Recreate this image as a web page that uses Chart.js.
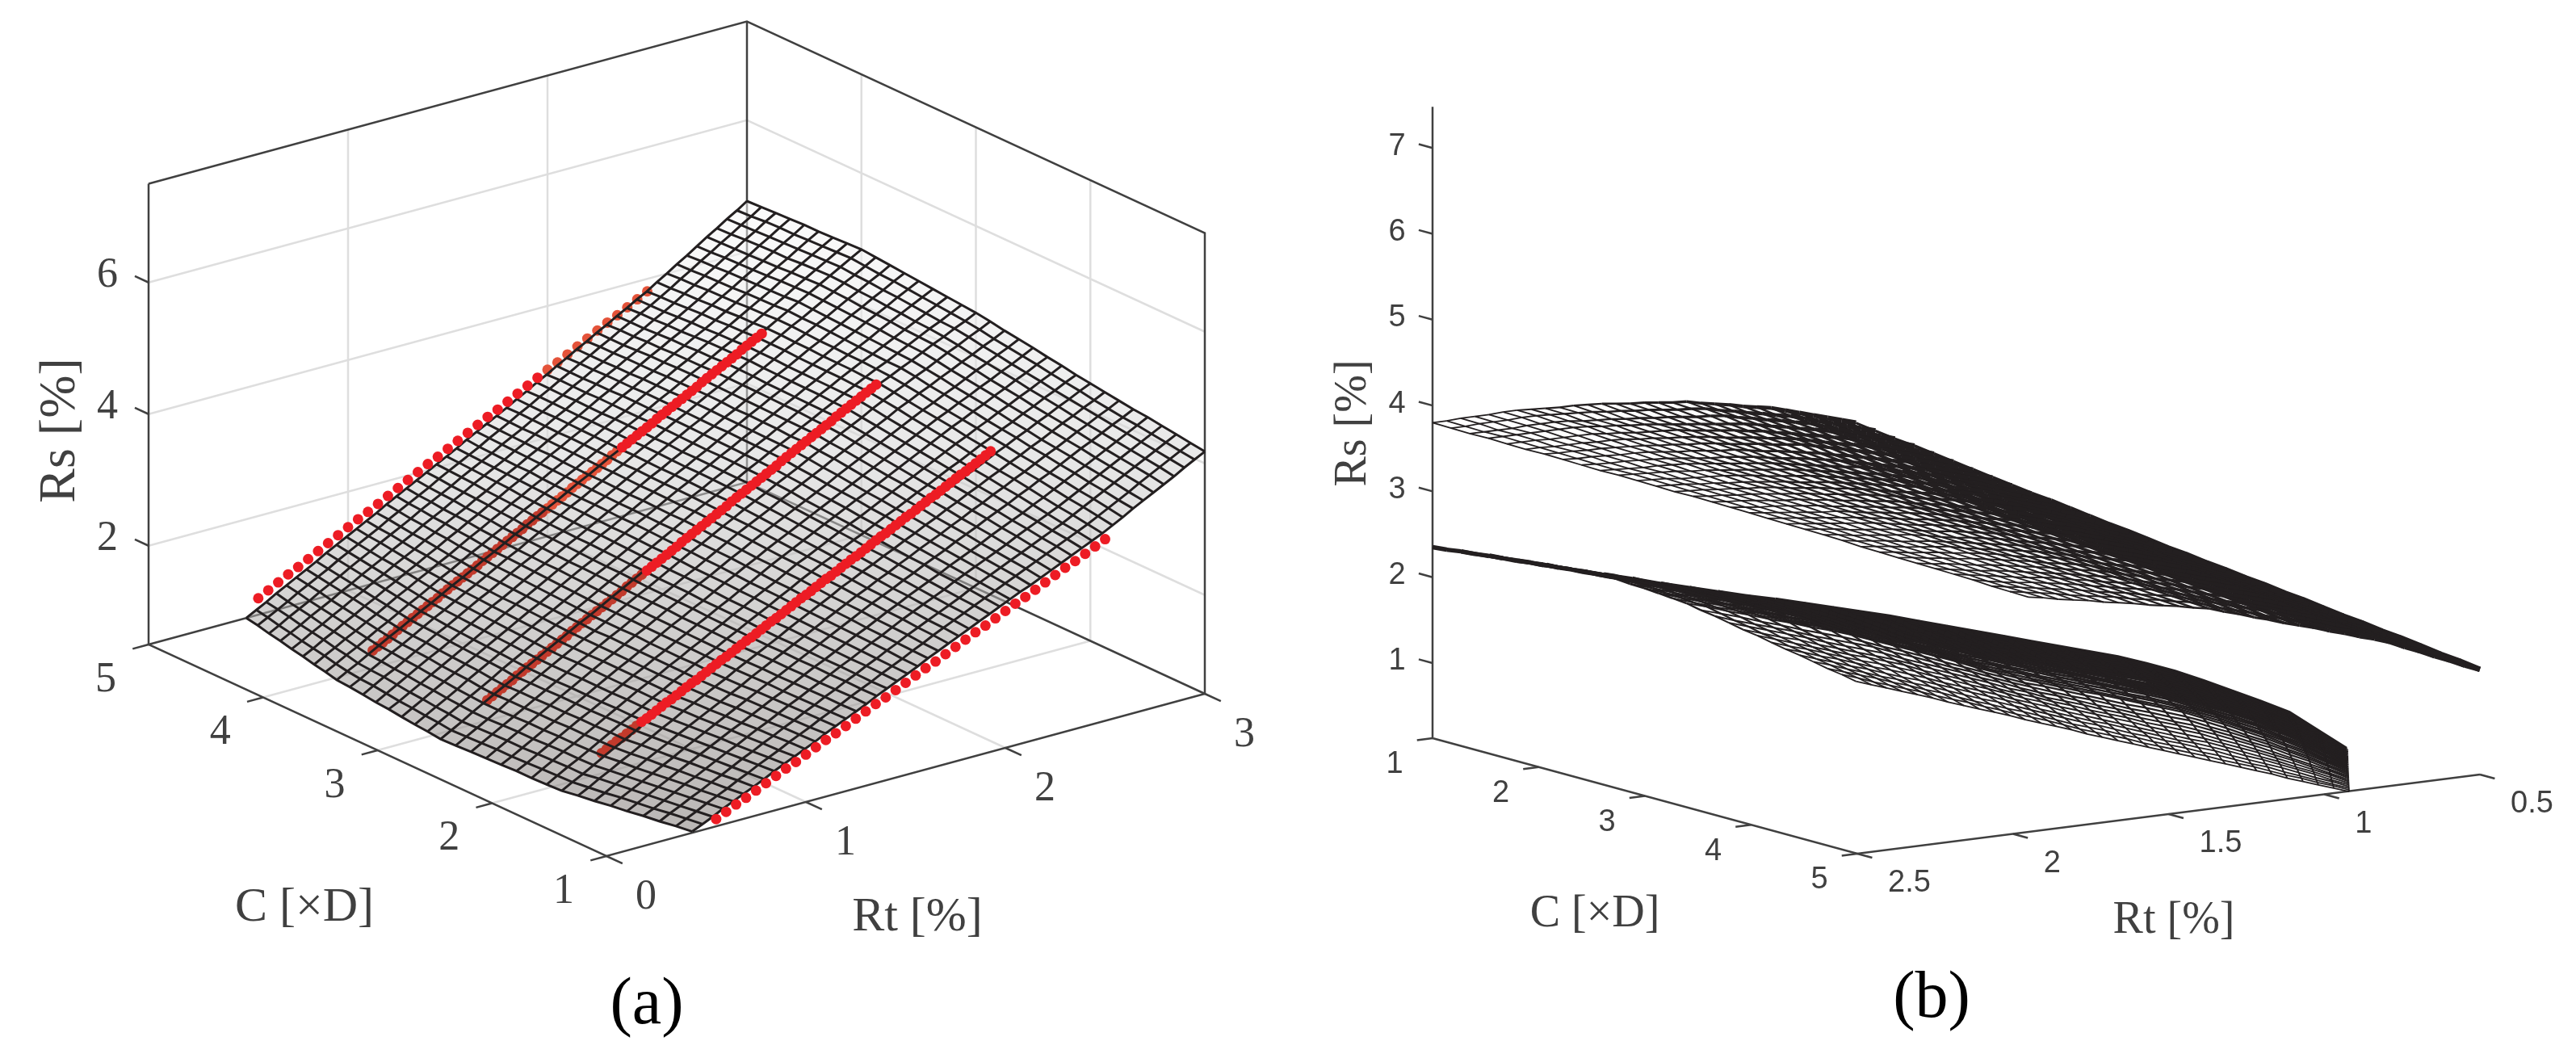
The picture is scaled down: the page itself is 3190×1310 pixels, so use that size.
<!DOCTYPE html>
<html>
<head>
<meta charset="utf-8">
<title>Rs surfaces</title>
<script src="https://cdn.jsdelivr.net/npm/chart.js@4"></script>
<style>
	html, body { margin: 0; background: #fff; }
	#wrap { position: relative; width: 3190px; height: 1310px; overflow: hidden; }
	canvas { position: absolute; top: 0; }
	#chart-a { left: 0; }
	#chart-b { left: 1595px; }
</style>
</head>
<body>
<div id="wrap">
	<canvas id="chart-a" width="1595" height="1310"></canvas>
	<canvas id="chart-b" width="1595" height="1310"></canvas>
</div>
<script>
'use strict';

// Tick labels
var rtTicksA = [0, 1, 2, 3];
var cTicksA = [1, 2, 3, 4, 5];
var rsTicksA = [2, 4, 6];
var rtTicksB = [2.5, 2, 1.5, 1, 0.5];
var cTicksB = [1, 2, 3, 4, 5];
var rsTicksB = [1, 2, 3, 4, 5, 6, 7];

// Panel (a) mesh. Estimated by eye: stations measured on the picture, nodes in between typed as estimates.
var cLevels = [1, 1.125, 1.25, 1.375, 1.5, 1.625, 1.75, 1.875, 2, 2.125, 2.25, 2.375, 2.5, 2.625, 2.75, 2.875, 3, 3.125, 3.25, 3.375, 3.5, 3.625, 3.75, 3.875, 4, 4.125, 4.25, 4.375, 4.5, 4.625, 4.75, 4.875, 5];
var rtStartA = [0.43, 0.42, 0.41, 0.40, 0.39, 0.38, 0.37, 0.36, 0.35, 0.346, 0.342, 0.338, 0.333, 0.329, 0.325, 0.32, 0.316, 0.323, 0.33, 0.336, 0.343, 0.35, 0.357, 0.363, 0.37, 0.385, 0.40, 0.415, 0.43, 0.445, 0.46, 0.475, 0.49];
var rtEndA = 3;
// Rs in hundredths of a percent, one row per C level, 51 nodes from rtStartA to rtEndA
var rsMeshA = [
	[52,59,66,74,81,88,95,102,110,117,124,131,138,146,153,160,167,174,182,189,196,203,210,218,225,232,239,246,253,260,267,274,281,287,294,301,308,315,322,329,336,344,352,361,369,377,385,393,402,410,418],
	[51,58,65,73,80,87,95,102,110,117,124,132,139,146,154,161,168,176,183,190,198,205,212,220,227,235,242,249,256,263,270,277,284,291,298,305,312,319,326,333,340,348,356,364,372,381,389,397,405,413,421],
	[49,57,64,72,79,87,94,102,110,117,125,132,140,147,155,162,170,177,185,192,200,207,215,222,230,237,244,251,258,265,273,280,287,294,301,308,315,322,329,336,344,352,360,368,376,384,392,400,408,416,424],
	[48,55,63,71,79,86,94,102,110,117,125,133,140,148,156,163,171,178,186,194,201,209,217,224,232,240,247,254,261,268,276,283,290,297,304,311,319,326,333,340,347,355,363,371,379,387,395,403,411,419,427],
	[46,54,62,70,78,86,94,102,110,118,126,133,141,149,157,164,172,180,188,195,203,211,219,226,234,242,249,257,264,271,278,286,293,300,307,315,322,329,336,344,351,359,367,375,382,390,398,406,414,422,430],
	[45,53,61,69,77,85,93,102,110,118,126,134,142,150,158,166,173,181,189,197,205,213,221,229,237,245,252,259,267,274,282,289,296,304,311,318,326,333,340,348,355,363,370,378,386,394,401,409,417,424,432],
	[43,51,60,68,76,85,93,101,110,118,126,134,142,150,158,167,175,183,191,199,207,215,223,231,239,247,254,262,269,277,284,292,299,306,314,321,329,336,344,351,359,366,374,382,389,397,405,412,420,427,435],
	[42,50,59,67,76,84,93,101,110,118,127,135,143,151,159,168,176,184,192,200,209,217,225,233,241,250,257,265,272,280,287,295,302,310,317,325,332,340,347,355,362,370,377,385,392,400,408,415,423,430,438],
	[40,49,57,66,75,84,92,101,110,118,127,135,144,152,160,169,177,185,194,202,210,219,227,235,244,252,260,267,275,282,290,298,305,313,321,328,336,343,351,358,366,374,381,389,396,404,411,419,426,434,441],
	[40,49,58,66,75,84,93,102,110,119,128,136,145,153,162,170,178,187,195,204,212,220,229,237,246,254,262,269,277,285,292,300,308,315,323,331,338,346,354,361,369,377,384,392,399,407,414,422,429,437,444],
	[40,49,58,67,75,84,93,102,111,120,129,137,145,154,162,171,179,188,196,205,213,222,230,238,247,256,263,271,279,287,295,302,310,318,326,334,341,349,357,365,373,380,388,395,403,410,418,425,433,440,448],
	[41,49,58,67,76,85,94,102,111,120,129,138,146,155,163,172,180,189,197,206,214,223,231,240,249,257,265,273,281,289,297,305,313,320,328,336,344,352,360,368,376,384,391,399,406,414,421,429,436,444,451],
	[41,49,58,67,76,85,94,103,112,121,130,139,147,156,164,173,182,190,199,207,216,225,233,242,250,259,267,275,283,291,299,307,315,323,331,339,347,355,363,371,379,387,394,402,409,417,424,432,439,447,455],
	[41,50,59,68,77,86,95,104,113,122,131,140,148,157,166,174,183,192,200,209,218,226,235,244,252,261,269,277,285,293,301,309,317,326,334,342,350,358,366,374,382,390,397,405,412,420,428,435,443,450,458],
	[41,50,59,68,77,86,95,104,113,122,132,140,149,158,166,175,184,193,201,210,219,227,236,245,254,263,271,279,287,296,304,312,320,328,337,345,353,361,369,377,386,393,401,408,416,423,431,438,446,453,461],
	[41,50,59,68,77,87,96,105,114,123,132,141,150,158,167,176,185,194,202,211,220,229,238,246,255,264,272,281,289,297,306,314,322,331,339,347,356,364,372,381,389,397,404,412,419,427,435,442,450,457,465],
	[41,50,59,69,78,87,96,105,115,124,133,142,151,160,168,177,186,195,204,213,222,231,239,248,257,266,274,283,291,300,308,316,325,333,342,350,358,367,375,384,392,400,407,415,422,430,438,445,453,460,468],
	[42,51,60,69,78,87,96,106,115,124,133,142,151,159,168,177,186,195,204,212,221,230,239,248,257,266,274,282,291,299,308,316,325,333,341,350,358,367,375,384,392,400,408,415,423,431,439,447,454,462,470],
	[42,51,60,69,78,88,97,106,115,124,133,142,151,159,168,177,186,195,203,212,221,230,239,247,256,265,274,282,291,299,308,316,325,333,342,350,359,367,376,384,393,401,409,416,424,432,440,448,456,464,472],
	[43,52,61,70,79,88,97,106,115,124,133,142,151,159,168,177,186,195,203,212,221,230,239,247,256,265,274,282,291,299,308,316,325,333,342,350,359,367,376,384,393,401,409,417,425,434,442,450,458,466,474],
	[44,52,61,70,79,88,97,106,115,124,133,142,151,159,168,177,186,194,203,212,221,229,238,247,256,265,273,282,290,299,307,316,325,333,342,350,359,367,376,384,393,401,410,418,426,435,443,451,460,468,476],
	[44,53,62,71,80,89,97,106,115,124,133,142,150,159,168,177,185,194,203,211,220,229,238,246,255,264,273,281,290,298,307,316,324,333,341,350,359,367,376,384,393,402,410,419,427,436,444,453,461,470,478],
	[45,54,63,71,80,89,98,107,115,124,133,142,150,159,168,177,185,194,203,211,220,229,238,246,255,264,273,281,290,299,307,316,324,333,342,350,359,368,376,385,394,402,411,420,428,437,446,454,463,471,480],
	[46,54,63,72,81,89,98,107,116,124,133,142,150,159,168,177,185,194,203,211,220,229,237,246,255,264,272,281,290,298,307,316,324,333,342,350,359,368,377,385,394,403,412,420,429,438,447,456,464,473,482],
	[46,55,63,72,81,90,98,107,116,124,133,142,150,159,168,176,185,194,202,211,220,228,237,246,254,263,272,280,289,298,307,315,324,333,341,350,359,368,376,385,394,403,412,421,430,439,448,457,466,475,484],
	[47,55,64,72,81,90,98,107,116,124,133,142,150,159,168,176,185,193,202,211,219,228,236,245,253,262,271,279,288,297,305,314,323,331,340,349,357,366,375,383,392,401,410,419,428,438,447,456,465,474,483],
	[47,56,64,73,81,90,98,107,116,124,133,141,150,158,167,176,184,193,201,210,218,227,235,244,252,261,270,278,287,296,304,313,322,330,339,348,356,365,374,382,391,400,409,418,427,437,446,455,464,473,482],
	[48,56,65,73,82,90,99,107,116,124,133,141,150,158,167,175,184,192,201,209,218,226,235,243,252,260,269,277,286,294,303,312,320,329,337,346,355,363,372,380,389,398,407,417,426,435,444,453,463,472,481],
	[48,56,65,73,82,90,99,107,116,124,133,141,149,158,166,175,183,191,200,208,217,225,233,242,250,259,267,276,284,293,302,310,319,327,336,345,353,362,370,379,388,397,406,415,425,434,443,453,462,471,481],
	[49,57,65,74,82,90,99,107,116,124,132,141,149,157,166,174,182,191,199,208,216,224,232,241,249,258,266,275,283,292,300,309,318,326,335,343,352,360,369,377,386,395,405,414,424,433,442,452,461,471,480],
	[49,57,66,74,82,91,99,107,116,124,132,141,149,157,165,174,182,190,198,207,215,223,231,240,248,256,265,273,282,290,299,307,316,324,333,341,350,358,367,375,384,394,403,413,422,432,441,451,460,470,479],
	[50,58,66,74,83,91,99,107,116,124,132,140,148,157,165,173,181,189,198,206,214,222,230,239,247,255,264,272,281,289,298,306,315,323,332,340,349,357,366,374,383,392,402,411,421,430,440,449,459,468,478],
	[50,58,66,75,83,91,99,107,116,124,132,140,148,156,165,173,181,189,197,205,213,221,230,238,246,254,262,271,279,288,296,305,313,322,330,339,347,356,364,373,381,391,400,410,419,429,439,448,458,467,477]
];

// Panel (a) red measured points, one list per C level, Rs in hundredths of a percent
var redRt = [0.55, 0.6, 0.65, 0.7, 0.75, 0.8, 0.85, 0.9, 0.95, 1, 1.05, 1.1, 1.15, 1.2, 1.25, 1.3, 1.35, 1.4, 1.45, 1.5, 1.55, 1.6, 1.65, 1.7, 1.75, 1.8, 1.85, 1.9, 1.95, 2, 2.05, 2.1, 2.15, 2.2, 2.25, 2.3, 2.35, 2.4, 2.45, 2.5];
var redRtDense = [0.55, 0.575, 0.6, 0.625, 0.65, 0.675, 0.7, 0.725, 0.75, 0.775, 0.8, 0.825, 0.85, 0.875, 0.9, 0.925, 0.95, 0.975, 1, 1.025, 1.05, 1.075, 1.1, 1.125, 1.15, 1.175, 1.2, 1.225, 1.25, 1.275, 1.3, 1.325, 1.35, 1.375, 1.4, 1.425, 1.45, 1.475, 1.5, 1.525, 1.55, 1.575, 1.6, 1.625, 1.65, 1.675, 1.7, 1.725, 1.75, 1.775, 1.8, 1.825, 1.85, 1.875, 1.9, 1.925, 1.95, 1.975, 2, 2.025, 2.05, 2.075, 2.1, 2.125, 2.15, 2.175, 2.2, 2.225, 2.25, 2.275, 2.3, 2.325, 2.35, 2.375, 2.4, 2.425, 2.45, 2.475, 2.5];
var redC = [1, 2, 3, 4, 5];
var redRs1 = [61,68,75,81,88,95,102,109,115,122,129,136,142,149,156,163,170,176,183,190,197,204,210,217,224,231,238,244,251,258,265,271,278,285,292,299,305,312,319,326];
var redRs2 = [81,85,89,93,96,100,104,108,112,115,119,123,127,131,134,138,142,146,150,153,157,161,165,169,173,176,180,184,188,192,195,199,203,207,211,214,218,222,226,230,234,237,241,245,249,253,256,260,264,268,272,275,279,283,287,291,295,298,302,306,310,314,317,321,325,329,333,336,340,344,348,352,356,359,363,367,371,375,379];
var redRs3 = [81,85,89,93,97,101,106,110,114,118,122,126,130,134,138,142,146,151,155,159,163,167,171,175,179,183,187,191,196,200,204,208,212,216,220,224,228,232,236,241,245,249,253,257,261,265,269,273,277,282,286,290,294,298,302,306,310,314,318,323,327,331,335,339,343,347,351,355,359,363,368,372,376,380,384,388,392,396,400];
var redRs4 = [76,80,84,88,92,97,101,105,109,113,117,121,125,129,134,138,142,146,150,154,158,162,167,171,175,179,183,187,191,195,199,204,208,212,216,220,224,228,232,236,241,245,249,253,257,261,265,269,274,278,282,286,290,294,298,302,306,311,315,319,323,327,331,335,339,343,348,352,356,360,364,368,372,376,381,385,389,393,397];
var redRs5 = [75,83,91,99,106,114,122,130,138,146,154,161,169,177,185,193,201,209,216,224,232,240,248,256,263,271,279,287,295,303,310,318,326,334,342,350,357,365,373,381];
var redUnderFrom = [0, 0, 0, 0, 29];
var redUnderTo = [0, 8, 32, 50, 40];

// Panel (b) meshes, estimated by eye too. Rt runs from near to far bound, bounds given at C=1 and C=5.
var upperRtNear = [2.5, 1.95];
var upperRtFar = [1.14, 0.5];
var lowerRtNear = [1.14, 0.92];
var lowerRtFar = [2.5, 0.93];
var rsMeshUpper = [
	[380,380,381,381,381,382,382,381,380,379,379,378,377,375,373,372,370,368,367,363,360,357,353,350,347,342,337,332,327,322,317],
	[377,377,378,378,378,379,379,378,377,376,375,373,372,370,369,367,365,364,362,358,355,351,348,344,341,336,331,326,321,316,311],
	[374,374,374,374,375,375,375,374,372,371,370,368,367,365,364,362,360,359,357,353,350,346,343,339,336,330,325,320,315,310,305],
	[372,372,372,372,372,372,372,371,369,368,366,365,363,361,359,357,355,353,351,348,344,341,337,334,330,325,320,315,310,305,300],
	[369,369,369,368,368,368,368,366,365,363,362,361,360,357,355,353,351,348,346,342,339,335,332,328,325,319,314,309,304,299,294],
	[366,366,365,365,365,364,364,363,361,360,358,357,355,353,350,348,346,343,341,338,334,330,326,323,319,314,309,304,298,293,288],
	[364,363,363,362,362,361,360,359,357,356,354,353,351,348,346,344,341,339,337,333,329,325,321,317,313,308,303,298,292,287,282],
	[361,360,360,359,358,358,357,355,353,352,350,348,347,344,341,339,336,333,330,326,323,319,315,311,308,302,297,292,287,281,276],
	[358,357,356,356,355,354,353,351,349,347,346,344,342,339,336,334,331,328,325,321,317,313,310,306,302,297,291,286,281,275,270],
	[355,354,353,352,352,351,350,348,346,344,342,340,338,335,332,329,326,323,321,317,313,309,305,301,297,292,286,281,275,270,264],
	[353,352,351,350,349,347,346,344,342,340,338,336,334,331,328,325,322,319,316,312,309,305,300,296,292,287,281,275,270,264,259],
	[350,349,348,346,345,344,343,341,339,336,334,332,330,327,324,321,318,315,312,308,304,300,295,291,287,282,276,270,265,259,253],
	[347,346,345,343,342,340,339,337,335,333,330,328,326,323,320,317,314,311,308,303,299,295,291,286,282,276,270,265,259,253,247],
	[344,343,342,340,339,337,336,334,331,329,327,324,322,319,316,312,309,306,303,299,295,290,286,281,277,271,265,259,253,247,241],
	[342,340,339,337,336,334,332,330,328,325,323,320,318,315,312,308,305,302,299,295,290,286,281,277,272,266,260,254,248,242,236],
	[339,337,336,334,332,330,329,326,324,321,319,316,314,311,307,304,301,297,294,290,285,281,276,272,267,261,255,249,242,236,230],
	[336,334,332,331,329,327,325,322,320,317,315,312,310,307,303,300,297,293,290,285,281,276,271,267,262,256,249,243,237,230,224],
	[333,331,329,327,325,323,322,319,316,314,311,309,306,303,299,296,292,289,286,281,276,271,267,262,257,250,244,238,231,225,219],
	[330,328,326,324,322,320,318,315,313,310,307,305,302,299,295,292,288,285,281,276,271,267,262,257,252,245,239,233,226,220,213],
	[327,325,323,321,319,317,315,312,309,306,304,301,298,295,291,287,284,280,277,272,267,262,257,252,247,240,234,227,221,214,208],
	[324,322,320,317,315,313,311,308,305,302,300,297,294,291,287,283,279,276,272,267,262,257,252,247,242,235,229,222,215,209,202],
	[321,319,316,314,312,310,308,305,301,298,296,293,290,286,282,279,275,271,268,262,257,252,247,242,237,230,223,217,210,203,197],
	[318,315,313,311,308,306,304,301,298,295,292,289,286,282,278,274,270,267,263,258,252,247,242,237,232,225,218,211,205,198,191],
	[314,312,310,307,305,303,301,297,294,291,288,285,282,278,274,270,266,262,259,253,247,242,237,232,227,220,213,206,199,192,186],
	[311,309,306,304,302,299,297,294,291,287,284,281,278,274,270,265,261,258,254,248,242,237,232,227,222,215,208,201,194,187,180],
	[308,306,303,301,298,296,293,290,287,284,280,277,274,270,265,261,257,253,249,243,237,232,227,222,217,210,202,195,188,181,174],
	[305,302,300,297,294,292,289,286,283,280,276,273,270,266,261,257,252,248,244,238,232,227,222,217,212,204,197,190,183,176,169],
	[302,299,296,293,291,288,285,282,279,276,272,269,266,261,256,252,248,243,239,233,227,222,217,211,206,199,192,184,177,170,163],
	[299,296,293,290,287,284,282,279,275,272,268,265,262,257,252,248,243,238,234,228,222,217,212,206,201,194,186,179,172,165,158],
	[296,292,289,286,284,281,278,275,271,268,264,261,258,253,248,243,238,233,229,223,218,212,207,201,196,189,181,174,167,159,152],
	[292,289,286,283,280,277,274,270,267,264,260,257,254,249,244,239,234,229,224,218,213,207,202,196,191,183,176,168,161,153,146],
	[289,286,283,280,276,273,270,267,263,260,257,253,250,245,239,234,229,223,218,213,207,202,196,191,185,178,171,163,156,148,141],
	[286,283,279,276,273,269,266,263,259,256,253,249,246,240,235,229,224,218,213,208,202,197,191,186,180,172,165,157,150,142,135]
];
var rsMeshLower = [
	[16,26,35,45,55,64,74,84,93,103,113,122,132,140,148,156,163,171,179,184,188,193,198,202,207,212,216,221,226,230,235],
	[16,26,35,45,54,64,73,83,92,102,111,121,131,138,146,153,161,168,176,181,185,190,195,200,205,209,214,218,223,227,232],
	[16,25,35,44,54,63,73,82,91,101,110,120,129,136,144,151,158,166,173,178,183,187,192,197,202,206,210,215,219,224,229],
	[16,25,35,44,53,63,72,81,91,100,109,118,128,135,142,149,156,163,170,175,180,184,189,194,199,203,208,212,216,221,225],
	[16,25,34,43,53,62,71,80,89,99,108,117,126,133,140,147,153,160,167,172,176,181,186,190,195,199,204,208,213,217,222],
	[16,25,34,43,52,61,70,79,88,97,106,115,125,131,138,144,151,158,164,169,173,178,183,187,192,196,201,205,209,214,218],
	[15,24,33,42,51,61,70,79,87,96,105,114,123,129,135,142,148,155,161,166,170,175,180,184,189,193,198,202,206,211,215],
	[15,24,33,42,51,60,69,78,86,95,104,113,122,128,133,139,145,152,158,163,167,172,177,181,186,190,194,198,203,207,212],
	[15,24,32,41,50,59,68,77,85,94,103,111,120,126,132,137,143,149,155,160,164,169,174,178,183,187,191,195,200,204,208],
	[15,23,31,40,49,57,66,74,83,91,100,108,117,123,129,135,140,146,152,157,161,166,171,175,180,184,188,193,197,201,205],
	[15,23,31,39,48,56,65,73,81,89,98,106,114,120,125,131,137,142,148,153,158,163,167,172,177,181,185,190,194,198,202],
	[14,22,30,39,47,55,63,71,79,87,95,103,111,117,122,128,134,139,145,150,155,160,164,169,174,178,182,187,191,195,199],
	[14,22,30,38,46,54,62,69,77,85,92,100,108,113,119,125,130,136,142,146,151,156,161,166,171,175,179,184,188,192,197],
	[14,22,29,37,45,52,60,67,75,82,90,97,105,110,116,121,127,132,138,143,148,153,158,163,168,172,176,181,185,190,194],
	[14,21,28,36,43,51,58,65,72,80,87,94,101,107,112,118,123,129,135,140,145,149,154,159,164,168,173,177,182,186,191],
	[13,20,27,35,42,50,57,64,71,77,84,91,98,103,109,114,120,125,131,136,141,146,151,156,161,165,170,174,179,183,188],
	[13,20,27,34,41,48,55,62,68,75,82,88,95,101,106,112,117,123,128,133,138,143,148,153,158,162,167,171,176,180,185],
	[13,20,27,34,40,47,54,61,67,74,80,87,93,98,104,109,114,120,125,130,135,140,145,150,155,159,164,168,172,177,181],
	[13,20,26,33,40,46,53,59,66,72,78,85,91,96,101,106,112,117,122,127,132,137,141,146,151,155,160,164,168,173,177],
	[13,19,26,32,39,45,52,58,64,70,77,83,89,94,99,104,109,114,119,124,129,133,138,143,148,152,156,160,165,169,173],
	[13,19,25,32,38,44,51,57,63,69,75,81,88,92,97,102,107,112,117,121,126,130,135,139,144,148,152,156,161,165,169],
	[13,19,25,31,37,43,49,55,61,67,73,79,86,90,95,100,105,109,114,118,123,127,131,136,141,145,149,153,157,161,165],
	[13,19,25,31,36,42,48,54,60,66,72,78,84,88,93,97,102,106,111,115,120,124,128,133,137,141,145,149,153,157,161],
	[13,19,24,30,36,41,47,53,59,64,70,76,82,86,91,95,100,104,108,112,116,120,125,129,134,138,141,145,149,153,157],
	[13,18,24,30,35,41,46,52,57,63,69,74,80,84,88,92,97,101,105,109,113,117,122,126,130,134,138,142,145,149,153],
	[13,18,23,28,34,39,44,49,55,60,65,71,76,80,84,88,92,96,100,104,108,112,116,120,124,128,132,135,139,143,147],
	[13,18,22,27,32,37,42,47,52,57,62,67,72,76,80,84,87,91,95,99,103,107,110,114,118,122,125,129,133,136,140],
	[13,17,22,26,31,35,40,44,49,53,58,62,67,71,74,78,82,86,90,93,97,100,104,107,111,114,118,121,124,127,131],
	[12,16,20,25,29,33,37,41,45,50,54,58,62,66,69,73,77,80,84,87,90,94,97,101,104,107,110,113,115,118,121],
	[12,16,19,23,27,30,34,38,41,45,49,52,56,59,63,66,69,73,76,79,82,85,88,92,95,97,100,103,105,108,111],
	[12,15,18,21,25,28,31,34,37,41,44,47,50,53,56,59,62,65,68,71,74,77,79,82,85,87,90,92,95,97,100],
	[12,15,17,20,22,25,28,30,33,35,38,40,43,45,47,50,52,55,57,59,61,63,66,68,70,72,74,76,77,79,81],
	[12,14,16,18,20,22,24,26,28,30,32,34,36,38,40,41,43,45,46,48,49,51,52,54,55,56,57,58,60,61,62]
];

var AXIS_DARK = '#404040';
var GRID_LIGHT = '#dedede';
var MESH_DARK = '#231f20';
var RED = '#ed1c24';
var RED_UNDER_LOW = '#c23a2c';
var RED_UNDER_HIGH = '#e4533a';
var SERIF = '"Liberation Serif"';
var SANS = '"Liberation Sans"';

// Three-dimensional box of each panel laid flat on the page
function projectA(rt, c, rs) {
	return {
		x: 751 + 247 * rt - 141.75 * (c - 1),
		y: 1060 - 67 * rt - 65.5 * (c - 1) - 81.5 * (rs - 0.5)
	};
}

function projectB(rt, c, rs) {
	return {
		x: 1774 + 131.5 * (c - 1) + 385.5 * (2.5 - rt),
		y: 914 + 35.75 * (c - 1) - 49 * (2.5 - rt) - 106.3 * (rs - 0.125)
	};
}

function lineSet(points, color, width, order) {
	return {
		showLine: true,
		data: points,
		borderColor: color,
		borderWidth: width,
		pointRadius: 0,
		tension: 0,
		order: order
	};
}

function dotSet(points, color, order) {
	return {
		showLine: false,
		data: points,
		pointRadius: 6.5,
		pointBackgroundColor: color,
		pointBorderWidth: 0,
		order: order
	};
}

function path(project, nodes) {
	return nodes.map(function (n) {
		return project(n[0], n[1], n[2]);
	});
}

function makeOptions(xMin, xMax) {
	return {
		responsive: false,
		animation: false,
		devicePixelRatio: 1,
		parsing: false,
		layout: { padding: 0, autoPadding: false },
		plugins: { legend: { display: false }, tooltip: { enabled: false } },
		scales: {
			x: { type: 'linear', display: false, min: xMin, max: xMax },
			y: { type: 'linear', display: false, min: 0, max: 1310, reverse: true }
		}
	};
}

function textPlugin(labels) {
	return {
		id: 'panelText',
		afterDatasetsDraw: function (chart) {
			var ctx = chart.ctx;
			var xs = chart.scales.x;
			var ys = chart.scales.y;
			labels.forEach(function (l) {
				ctx.save();
				ctx.translate(xs.getPixelForValue(l.x), ys.getPixelForValue(l.y));
				if (l.rotate) {
					ctx.rotate(l.rotate);
				}
				ctx.font = l.font;
				ctx.fillStyle = l.color || AXIS_DARK;
				ctx.textAlign = l.align || 'center';
				ctx.textBaseline = 'middle';
				ctx.fillText(l.text, 0, 0);
				ctx.restore();
			});
		}
	};
}

var PanelA = (function () {
	var datasets = [];
	var labels = [];
	var rtMax = 3, rsMin = 0.5, rsMax = 7.5;
	var tickFont = '52px ' + SERIF;
	var titleFont = '60px ' + SERIF;

	// Walls
	rsTicksA.forEach(function (rs) {
		datasets.push(lineSet(path(projectA, [[0, 5, rs], [rtMax, 5, rs], [rtMax, 1, rs]]), GRID_LIGHT, 2.5, 9));
		var p = projectA(0, 5, rs);
		datasets.push(lineSet(path(projectA, [[0, 5, rs], [0, 5.12, rs]]), AXIS_DARK, 2.5, 8));
		labels.push({ text: String(rs), x: p.x - 51, y: p.y - 8, font: tickFont });
	});
	rtTicksA.forEach(function (rt) {
		if (rt > 0 && rt < rtMax) {
			datasets.push(lineSet(path(projectA, [[rt, 1, rsMin], [rt, 5, rsMin], [rt, 5, rsMax]]), GRID_LIGHT, 2.5, 9));
		}
		var p = projectA(rt, 1, rsMin);
		datasets.push(lineSet(path(projectA, [[rt, 1, rsMin], [rt, 0.86, rsMin]]), AXIS_DARK, 2.5, 8));
		labels.push({ text: String(rt), x: p.x + 49, y: p.y + 51, font: tickFont });
	});
	cTicksA.forEach(function (c) {
		if (c > 1 && c < 5) {
			datasets.push(lineSet(path(projectA, [[0, c, rsMin], [rtMax, c, rsMin], [rtMax, c, rsMax]]), GRID_LIGHT, 2.5, 9));
		}
		var p = projectA(0, c, rsMin);
		datasets.push(lineSet(path(projectA, [[0, c, rsMin], [-0.08, c, rsMin]]), AXIS_DARK, 2.5, 8));
		labels.push({ text: String(c), x: p.x - 53, y: p.y + 44, font: tickFont });
	});

	// Box
	datasets.push(lineSet(path(projectA, [
		[0, 5, rsMax], [0, 5, rsMin], [0, 1, rsMin], [rtMax, 1, rsMin], [rtMax, 1, rsMax], [rtMax, 5, rsMax], [0, 5, rsMax]
	]), AXIS_DARK, 2.5, 8));
	datasets.push(lineSet(path(projectA, [
		[0, 5, rsMin], [rtMax, 5, rsMin], [rtMax, 1, rsMin]
	]), AXIS_DARK, 2.5, 8));
	datasets.push(lineSet(path(projectA, [[rtMax, 5, rsMin], [rtMax, 5, rsMax]]), AXIS_DARK, 2.5, 8));

	// Surface nodes
	var nodes = rsMeshA.map(function (row, i) {
		return row.map(function (v, j) {
			var rt = rtStartA[i] + (rtEndA - rtStartA[i]) * j / (row.length - 1);
			return projectA(rt, cLevels[i], v / 100);
		});
	});

	// Carrier for the surface fill
	datasets.push({ label: 'surface fill', data: [], order: 5 });

	nodes.forEach(function (row) {
		datasets.push(lineSet(row, MESH_DARK, 3, 2));
	});
	nodes[0].forEach(function (unused, j) {
		datasets.push(lineSet(nodes.map(function (row) { return row[j]; }), MESH_DARK, 3, 2));
	});

	// Red points, the covered ones are tinted by the surface and stay under the mesh
	var redRtLists = [redRt, redRtDense, redRtDense, redRtDense, redRt];
	[redRs1, redRs2, redRs3, redRs4, redRs5].forEach(function (list, k) {
		var underLow = [], underHigh = [], over = [];
		list.forEach(function (v, n) {
			var rt = redRtLists[k][n];
			var p = projectA(rt, redC[k], v / 100);
			if (n >= redUnderFrom[k] && n < redUnderTo[k]) {
				(rt > 1.4 ? underHigh : underLow).push(p);
			} else {
				over.push(p);
			}
		});
		datasets.push(dotSet(underLow, RED_UNDER_LOW, 3));
		datasets.push(dotSet(underHigh, RED_UNDER_HIGH, 3));
		datasets.push(dotSet(over, RED, 1));
	});

	labels.push({ text: 'C [\u00d7D]', x: 377, y: 1124, font: titleFont });
	labels.push({ text: 'Rt [%]', x: 1136, y: 1136, font: titleFont });
	labels.push({ text: 'Rs [%]', x: 75, y: 533, font: '64px ' + SERIF, rotate: -Math.PI / 2 });
	labels.push({ text: '(a)', x: 801, y: 1245, font: '82px ' + SERIF, color: '#000' });

	var surfaceFill = {
		id: 'surfaceFill',
		beforeDatasetDraw: function (chart, args) {
			if (chart.data.datasets[args.index].label !== 'surface fill') {
				return;
			}
			var ctx = chart.ctx;
			var xs = chart.scales.x;
			var ys = chart.scales.y;
			var last = nodes.length - 1;
			var lastJ = nodes[0].length - 1;
			var outline = nodes[0].slice();
			nodes.forEach(function (row) { outline.push(row[lastJ]); });
			outline = outline.concat(nodes[last].slice().reverse());
			nodes.slice().reverse().forEach(function (row) { outline.push(row[0]); });
			var grad = ctx.createLinearGradient(0, ys.getPixelForValue(250), 0, ys.getPixelForValue(1030));
			grad.addColorStop(0, 'rgba(248,248,248,0.55)');
			grad.addColorStop(0.4, 'rgba(213,213,213,0.55)');
			grad.addColorStop(0.71, 'rgba(166,163,161,0.55)');
			grad.addColorStop(1, 'rgba(130,123,120,0.55)');
			ctx.save();
			ctx.beginPath();
			outline.forEach(function (p, n) {
				var px = xs.getPixelForValue(p.x);
				var py = ys.getPixelForValue(p.y);
				if (n === 0) {
					ctx.moveTo(px, py);
				} else {
					ctx.lineTo(px, py);
				}
			});
			ctx.closePath();
			ctx.fillStyle = grad;
			ctx.fill();
			ctx.restore();
		}
	};

	return new Chart(document.getElementById('chart-a'), {
		type: 'scatter',
		data: { datasets: datasets },
		options: makeOptions(0, 1595),
		plugins: [surfaceFill, textPlugin(labels)]
	});
})();

var PanelB = (function () {
	var datasets = [];
	var labels = [];
	var rsMin = 0.125, rsMax = 7.48;
	var tickFont = '38px ' + SANS;
	var titleFont = '56px ' + SERIF;

	datasets.push(lineSet(path(projectB, [
		[2.5, 1, rsMax], [2.5, 1, rsMin], [2.5, 5, rsMin], [0.5, 5, rsMin]
	]), AXIS_DARK, 2.5, 8));

	rsTicksB.forEach(function (rs) {
		var p = projectB(2.5, 1, rs);
		datasets.push(lineSet(path(projectB, [[2.5, 1, rs], [2.5, 0.87, rs]]), AXIS_DARK, 2.5, 8));
		labels.push({ text: String(rs), x: p.x - 44, y: p.y - 2, font: tickFont });
	});
	cTicksB.forEach(function (c) {
		var p = projectB(2.5, c, rsMin);
		datasets.push(lineSet(path(projectB, [[2.5, c, rsMin], [2.55, c, rsMin]]), AXIS_DARK, 2.5, 8));
		labels.push({ text: String(c), x: p.x - 47, y: p.y + 33, font: tickFont });
	});
	rtTicksB.forEach(function (rt) {
		var p = projectB(rt, 5, rsMin);
		datasets.push(lineSet(path(projectB, [[rt, 5, rsMin], [rt, 5.14, rsMin]]), AXIS_DARK, 2.5, 8));
		labels.push({ text: String(rt), x: p.x + 38, y: p.y + 37, font: tickFont, align: 'left' });
	});

	// The far part of each band reads as solid black in the reference, so its lines get heavier
	function addBand(table, near, far, heavy) {
		var nodes = table.map(function (row, i) {
			var f = (cLevels[i] - 1) / 4;
			var rtNear = near[0] + (near[1] - near[0]) * f;
			var rtFar = far[0] + (far[1] - far[0]) * f;
			return row.map(function (v, j) {
				return projectB(rtNear + (rtFar - rtNear) * j / (row.length - 1), cLevels[i], v / 100);
			});
		});
		var lastJ = nodes[0].length - 1;
		nodes.forEach(function (row) {
			var set = lineSet(row, MESH_DARK, 1.8, 2);
			set.segment = {
				borderWidth: function (seg) {
					var t = seg.p0DataIndex / lastJ;
					return 1.8 + heavy * t * t;
				}
			};
			datasets.push(set);
		});
		nodes[0].forEach(function (unused, j) {
			var t = j / lastJ;
			var set = lineSet(nodes.map(function (row) { return row[j]; }), MESH_DARK, 1.8, 2);
			set.segment = {
				borderWidth: function (seg) {
					var k = Math.min(1, 0.25 + seg.p0DataIndex / 16);
					return 1.8 + heavy * k * t * t;
				}
			};
			datasets.push(set);
		});
	}

	addBand(rsMeshUpper, upperRtNear, upperRtFar, 5);
	addBand(rsMeshLower, lowerRtNear, lowerRtFar, 4);

	labels.push({ text: 'C [\u00d7D]', x: 1975, y: 1132, font: titleFont });
	labels.push({ text: 'Rt [%]', x: 2692, y: 1140, font: titleFont });
	labels.push({ text: 'Rs [%]', x: 1676, y: 524, font: titleFont, rotate: -Math.PI / 2 });
	labels.push({ text: '(b)', x: 2392, y: 1237, font: '82px ' + SERIF, color: '#000' });

	return new Chart(document.getElementById('chart-b'), {
		type: 'scatter',
		data: { datasets: datasets },
		options: makeOptions(1595, 3190),
		plugins: [textPlugin(labels)]
	});
})();
</script>
</body>
</html>
